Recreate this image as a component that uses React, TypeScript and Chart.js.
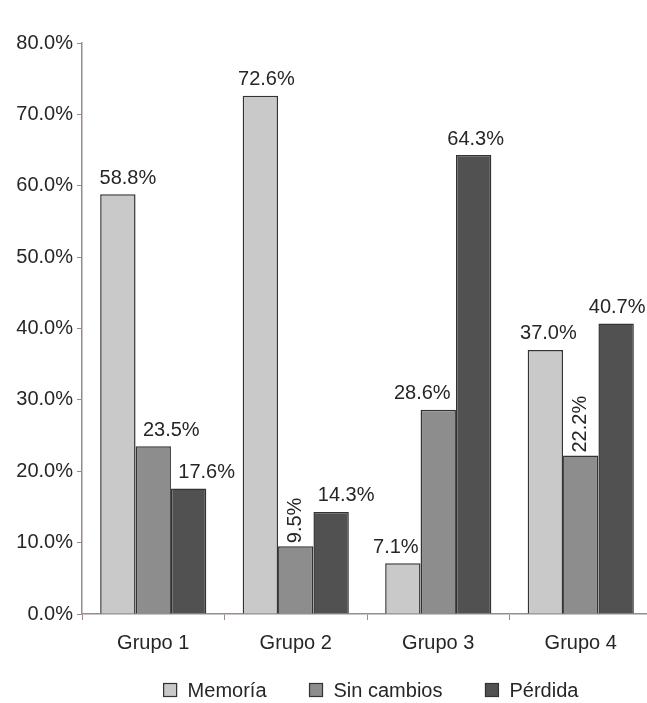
import React, { useEffect, useRef } from "react";
import { Chart, registerables } from "chart.js";

Chart.register(...registerables);

const categories = ["Grupo 1", "Grupo 2", "Grupo 3", "Grupo 4"];
const seriesNames = ["Memoría", "Sin cambios", "Pérdida"];
const memoria = [58.8, 72.6, 7.1, 37.0];
const sinCambios = [23.5, 9.5, 28.6, 22.2];
const perdida = [17.6, 14.3, 64.3, 40.7];
const yMin = 0;
const yMax = 80;
const yStep = 10;

// label appearance (not data): rotated flags and horizontal nudges
const rotatedLabel = [
  [false, false, false, false],
  [false, true, false, true],
  [false, false, false, false],
];
const labelNudge = [
  [10, 6, -7, 3],
  [18, 0, -16, 0],
  [18, 15, 2, 1],
];

const colors = ["#c9c9c9", "#8d8d8d", "#515151"];
const FONT = "'Liberation Sans', Arial, sans-serif";
const TEXT = "#262626";
const FS = 20;

const fmt = (v: number) => v.toFixed(1) + "%";

const labelPlugin = {
  id: "barLabels",
  afterDatasetsDraw(chart: any) {
    const ctx = chart.ctx;
    ctx.save();
    ctx.font = `${FS}px ${FONT}`;
    ctx.fillStyle = TEXT;
    chart.data.datasets.forEach((ds: any, di: number) => {
      const meta = chart.getDatasetMeta(di);
      meta.data.forEach((el: any, i: number) => {
        const txt = fmt(ds.data[i]);
        if (rotatedLabel[di][i]) {
          ctx.save();
          ctx.translate(el.x, el.y - 3);
          ctx.rotate(-Math.PI / 2);
          ctx.textAlign = "left";
          ctx.textBaseline = "middle";
          ctx.fillText(txt, 0, 0);
          ctx.restore();
        } else {
          ctx.textAlign = "center";
          ctx.textBaseline = "bottom";
          ctx.fillText(txt, el.x + labelNudge[di][i], el.y - 6);
        }
      });
    });
    ctx.restore();
  },
};

const legendPlugin = {
  id: "customLegend",
  afterDraw(chart: any) {
    const ctx = chart.ctx;
    ctx.save();
    ctx.font = `${FS}px ${FONT}`;
    const box = 13;
    const gapBoxText = 11;
    const gapItems = 43;
    const widths = seriesNames.map((n) => ctx.measureText(n).width);
    const total =
      widths.reduce((a, b) => a + b, 0) +
      seriesNames.length * (box + gapBoxText) +
      (seriesNames.length - 1) * gapItems;
    let x = 371 - total / 2;
    const cy = 690;
    seriesNames.forEach((n, i) => {
      ctx.fillStyle = colors[i];
      ctx.fillRect(x, cy - box / 2, box, box);
      ctx.strokeStyle = "#333";
      ctx.lineWidth = 1.2;
      ctx.strokeRect(x, cy - box / 2, box, box);
      x += box + gapBoxText;
      ctx.fillStyle = TEXT;
      ctx.textAlign = "left";
      ctx.textBaseline = "middle";
      ctx.fillText(n, x, cy + 1);
      x += widths[i] + gapItems;
    });
    ctx.restore();
  },
};

export default function App() {
  const ref = useRef<HTMLCanvasElement | null>(null);

  useEffect(() => {
    if (!ref.current) return;
    const chart = new Chart(ref.current, {
      type: "bar",
      data: {
        labels: categories,
        datasets: [memoria, sinCambios, perdida].map((d, i) => ({
          label: seriesNames[i],
          data: d,
          backgroundColor: colors[i],
          borderColor: "#333333",
          borderWidth: 1.5,
          categoryPercentage: 0.745,
          barPercentage: 1,
        })),
      },
      options: {
        responsive: false,
        animation: false,
        events: [],
        layout: { padding: { top: 43, left: 0, right: 0, bottom: 0 } },
        plugins: {
          legend: { display: false },
          tooltip: { enabled: false },
        },
        scales: {
          x: {
            grid: {
              display: true,
              drawOnChartArea: false,
              drawTicks: true,
              tickLength: 6,
              color: "#9a8c8c",
              offset: true,
            },
            border: { display: true, color: "#9a8c8c", width: 1.5 },
            ticks: {
              color: TEXT,
              font: { size: FS, family: FONT },
              padding: 11,
            },
            afterFit(scale: any) {
              scale.height = 89;
            },
          },
          y: {
            min: yMin,
            max: yMax,
            grid: {
              display: true,
              drawOnChartArea: false,
              drawTicks: true,
              tickLength: 5,
              color: "#9a8c8c",
            },
            border: { display: true, color: "#9a8c8c", width: 1.5 },
            ticks: {
              stepSize: yStep,
              color: TEXT,
              font: { size: FS, family: FONT },
              padding: 4,
              callback: (v: any) => fmt(Number(v)),
            },
            afterFit(scale: any) {
              scale.width = 82;
            },
          },
        },
      },
      plugins: [labelPlugin, legendPlugin],
    });
    return () => chart.destroy();
  }, []);

  return (
    <div
      style={{
        position: "absolute",
        left: 0,
        top: 0,
        width: 647,
        height: 703,
        overflow: "hidden",
        background: "#ffffff",
      }}
    >
      <canvas ref={ref} width={652} height={703} style={{ display: "block" }} />
    </div>
  );
}
